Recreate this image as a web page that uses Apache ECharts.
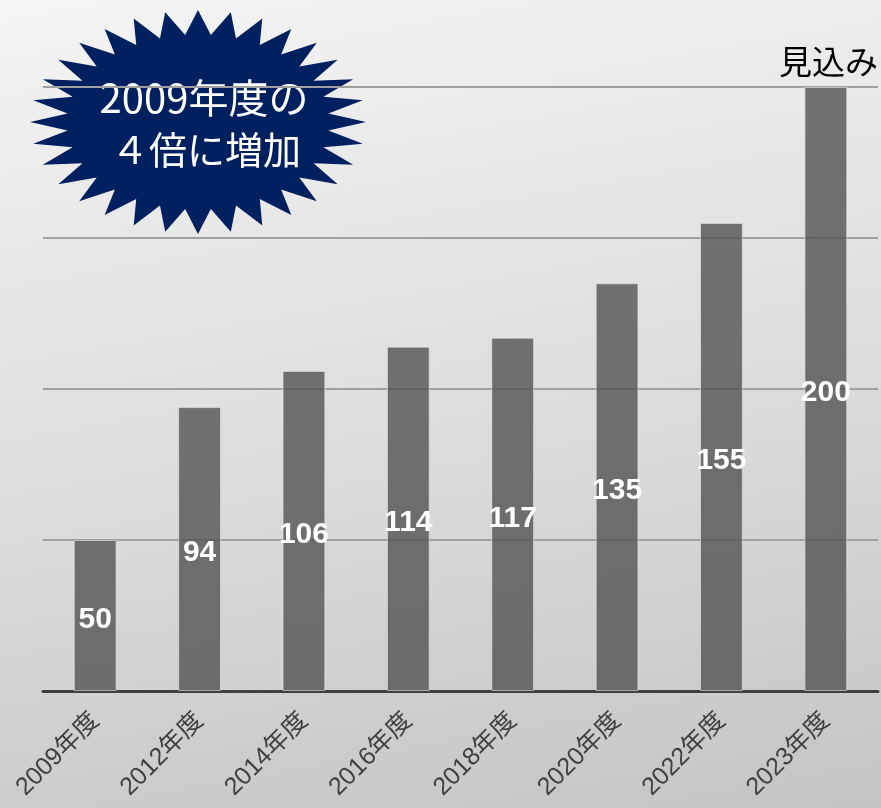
<!DOCTYPE html>
<html>
<head>
<meta charset="utf-8">
<script src="https://cdn.jsdelivr.net/npm/echarts@6/dist/echarts.min.js"></script>
<style>
  html, body { margin: 0; padding: 0; }
  #chart {
    width: 881px;
    height: 808px;
    background: linear-gradient(170deg, #f4f4f4 0%, #dedede 50%, #c4c4c4 100%);
  }
</style>
</head>
<body>
<div id="chart"></div>
<script>
const categories = ["2009年度", "2012年度", "2014年度", "2016年度", "2018年度", "2020年度", "2022年度", "2023年度"];
const values = [50, 94, 106, 114, 117, 135, 155, 200];
const yTicks = [0, 50, 100, 150, 200];

// 32-point star for the badge (shape only, not data)
function starPoints(cx, cy, rx, ry, n, ratio) {
  const pts = [];
  for (let i = 0; i < n * 2; i++) {
    const a = -Math.PI / 2 + (i * Math.PI) / n;
    const k = i % 2 === 0 ? 1 : ratio;
    pts.push([cx + Math.cos(a) * rx * k, cy + Math.sin(a) * ry * k]);
  }
  return pts;
}

const chart = echarts.init(document.getElementById("chart"));
chart.setOption({
  backgroundColor: "transparent",
  animation: false,
  grid: { left: 43, right: 3, top: 87, bottom: 117 },
  xAxis: {
    type: "category",
    data: categories,
    axisLine: { show: true, lineStyle: { color: "#404040", width: 3 } },
    axisTick: { show: false },
    axisLabel: {
      rotate: 45,
      margin: 26,
      color: "#404040",
      fontSize: 25,
      fontFamily: "Liberation Sans, Noto Sans CJK JP, sans-serif",
    },
  },
  yAxis: {
    type: "value",
    min: yTicks[0],
    max: yTicks[yTicks.length - 1],
    interval: 50,
    axisLabel: { show: false },
    axisLine: { show: false },
    axisTick: { show: false },
    splitLine: { lineStyle: { color: "#a0a0a0", width: 2 } },
  },
  series: [
    {
      type: "bar",
      data: values,
      barWidth: "41%",
      itemStyle: {
        color: "rgba(82,82,82,0.8)",
        borderColor: "rgba(235,235,235,0.6)",
        borderWidth: 1,
      },
      label: {
        show: true,
        position: "inside",
        offset: [0, 4],
        color: "#ffffff",
        fontSize: 30,
        fontWeight: "bold",
        fontFamily: "Liberation Sans, Arial, sans-serif",
      },
    },
  ],
  graphic: [
    {
      type: "polygon",
      shape: { points: starPoints(198, 122, 168, 112, 32, 0.78) },
      style: { fill: "#002060" },
    },
    {
      type: "text",
      x: 204,
      y: 98,
      style: {
        text: "2009年度の",
        fill: "#ffffff",
        font: "40px 'Noto Sans CJK JP'",
        align: "center",
        verticalAlign: "middle",
      },
    },
    {
      type: "text",
      x: 206,
      y: 150,
      style: {
        text: "４倍に増加",
        fill: "#ffffff",
        font: "38px 'Noto Sans CJK JP'",
        align: "center",
        verticalAlign: "middle",
      },
    },
    {
      type: "text",
      x: 878,
      y: 61,
      style: {
        text: "見込み",
        fill: "#000000",
        font: "33px 'Noto Sans CJK JP'",
        align: "right",
        verticalAlign: "middle",
      },
    },
  ],
});
</script>
</body>
</html>
